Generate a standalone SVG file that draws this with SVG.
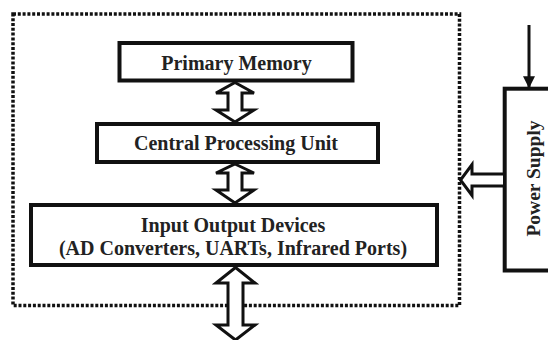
<svg xmlns="http://www.w3.org/2000/svg" width="548" height="340" viewBox="0 0 548 340">
<style>
.box{fill:#fff;stroke:#111;stroke-width:4}
.dot{fill:none;stroke:#111;stroke-width:3.5;stroke-dasharray:3 1.8}
.arr{fill:#fff;stroke:#111;stroke-width:3;stroke-linejoin:miter}
.t{font-family:"Liberation Serif","Times New Roman",serif;font-weight:bold;font-size:20px;fill:#222;text-anchor:middle}
</style>
<defs>
<marker id="ah" viewBox="0 0 10 10" refX="9" refY="5" markerWidth="4" markerHeight="4" orient="auto">
<path d="M0,0 L10,5 L0,10 z" fill="#111"/>
</marker>
</defs>
<rect width="548" height="340" fill="#fff"/>
<g id="boundary">
<rect class="dot" x="13" y="14" width="446.5" height="291.5"/>
</g>
<g id="primary-memory">
<rect class="box" x="119.5" y="43" width="233" height="37.5"/>
<text class="t" x="236.5" y="70">Primary Memory</text>
</g>
<g id="cpu">
<rect class="box" x="97" y="124" width="281" height="38"/>
<text class="t" x="236" y="150">Central Processing Unit</text>
</g>
<g id="io-devices">
<rect class="box" x="31" y="205" width="406" height="60"/>
<text class="t" x="233" y="232">Input Output Devices</text>
<text class="t" x="233" y="255">(AD Converters, UARTs, Infrared Ports)</text>
</g>
<g id="power-supply">
<rect class="box" x="504.7" y="88.7" width="60" height="181.8"/>
<text class="t" style="font-size:19.5px" transform="translate(540,178.5) rotate(-90)">Power Supply</text>
</g>
<g id="connectors">
<path class="arr" d="M235,82.5 L254,93 L242,93 L242,110 L254,110 L235,122 L216,110 L228,110 L228,93 L216,93 Z"/>
<path class="arr" d="M235,164 L254,173 L242,173 L242,190 L254,190 L235,203 L216,190 L228,190 L228,173 L216,173 Z"/>
<path class="arr" d="M235.5,267.5 L255,283 L243,283 L243,325 L255,325 L235.5,340 L216,325 L228,325 L228,283 L216,283 Z"/>
<path class="arr" d="M503,174 L472,174 L472,164.5 L460.5,180 L472,195.5 L472,186 L503,186"/>
<line x1="529" y1="25" x2="529" y2="87" stroke="#111" stroke-width="3" marker-end="url(#ah)"/>
</g>
</svg>
